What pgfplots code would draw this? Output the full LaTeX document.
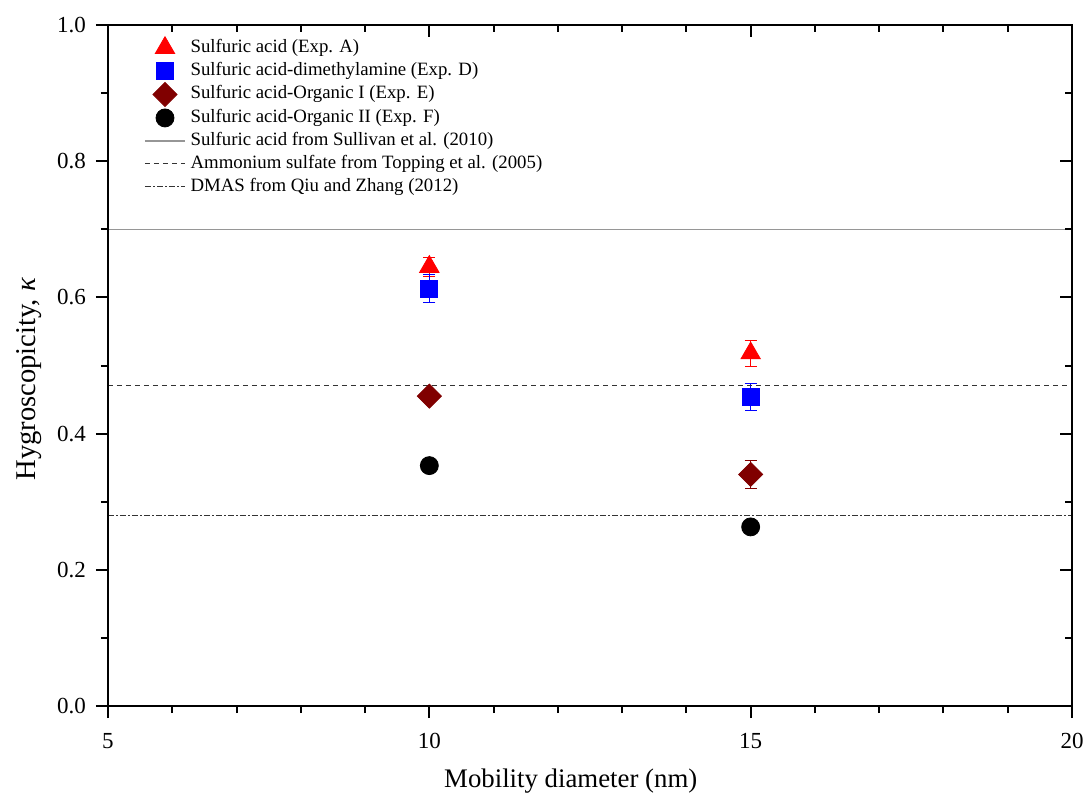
\documentclass[border=0pt]{standalone}
\usepackage{fontspec}
\setmainfont{Liberation Serif}
\usepackage{pgfplots}
\pgfplotsset{compat=1.18}

\begin{document}
\begin{tikzpicture}
\pgfplotsset{
    frame/.style={
        scale only axis,
        width=482pt, height=340.5pt,
        xmin=5, xmax=20, ymin=0, ymax=1,
        xtick={5,10,15,20}, ytick={0,0.2,0.4,0.6,0.8,1.0},
        minor x tick num=4, minor y tick num=1,
        axis line style={line width=1pt},
        major tick length=6pt, minor tick length=3.5pt,
        every tick/.style={line width=1pt, black},
        every minor tick/.style={line width=1pt, black},
    },
    errs/.style={
        error bars/.cd, y dir=both, y explicit,
        error bar style={line width=0.5pt},
        error mark options={rotate=90, mark size=3pt, line width=0.5pt},
    },
}
\begin{axis}[
    frame,
    xtick pos=bottom, ytick pos=left, tick align=outside,
    /pgf/number format/assume math mode=true,
    yticklabel style={/pgf/number format/fixed, /pgf/number format/fixed zerofill,
        /pgf/number format/precision=1, xshift=-1.5pt},
    tick label style={font=\fontsize{11.5}{13}\selectfont},
    xticklabel style={yshift=-4pt},
    xlabel={Mobility diameter (nm)},
    ylabel={Hygroscopicity, \textit{κ}},
    xlabel style={font=\fontsize{13.4}{16}\selectfont, at={(axis description cs:0.48,0)}, anchor=center, yshift=-37.5pt},
    ylabel style={font=\fontsize{14.3}{16}\selectfont, at={(axis description cs:-0.082,0.48)}, anchor=center},
    legend cell align=left,
    legend image code/.code={\draw[mark repeat=2,mark phase=2,#1] plot coordinates {(0pt,0pt)(10pt,0pt)(20pt,0pt)};},
    legend style={draw=none, fill=none, at={(0,1)}, anchor=north west,
        xshift=18pt, yshift=-5.5pt, inner sep=0pt, row sep=0pt,
        font=\fontsize{9.4}{11}\selectfont,
        nodes={inner ysep=1pt, inner xsep=2.5pt, text height=7pt, text depth=2.5pt}},
]
\addplot[only marks, color=red, mark=triangle*, mark size=5.6pt, errs]
    coordinates {(10,0.645) +- (0,0.014) (15,0.518) +- (0,0.019)};
\addlegendentry{Sulfuric acid (Exp. A)}
\addplot[only marks, color=blue, mark=square*, mark size=4.25pt, errs]
    coordinates {(10,0.613) +- (0,0.020) (15,0.454) +- (0,0.020)};
\addlegendentry{Sulfuric acid-dimethylamine (Exp. D)}
\addplot[only marks, color={rgb,255:red,128;green,0;blue,0}, mark=square*, mark size=4.25pt, mark options={rotate=45}, errs]
    coordinates {(10,0.455) +- (0,0.005) (15,0.340) +- (0,0.020)};
\addlegendentry{Sulfuric acid-Organic I (Exp. E)}
\addplot[only marks, color=black, mark=*, mark size=4.5pt, errs]
    coordinates {(10,0.353) +- (0,0.005) (15,0.263) +- (0,0.005)};
\addlegendentry{Sulfuric acid-Organic II (Exp. F)}
\addplot[no marks, line width=0.6pt, color={rgb,255:red,150;green,150;blue,150}]
    coordinates {(5,0.70) (20,0.70)};
\addlegendentry{Sulfuric acid from Sullivan et al. (2010)}
\addplot[no marks, line width=0.5pt, color=black!80, dash pattern=on 2.5pt off 2pt]
    coordinates {(5,0.47) (20,0.47)};
\addlegendentry{Ammonium sulfate from Topping et al. (2005)}
\addplot[no marks, line width=0.5pt, color=black!80, dash pattern=on 3pt off 1.2pt on 0.6pt off 1.2pt]
    coordinates {(5,0.28) (20,0.28)};
\addlegendentry{DMAS from Qiu and Zhang (2012)}
\end{axis}
\begin{axis}[
    frame,
    xtick pos=top, ytick pos=right, tick align=inside,
    xticklabels={}, yticklabels={},
]
\end{axis}
\pgfresetboundingbox
\useasboundingbox ([xshift=-54pt,yshift=-47pt]current axis.south west) rectangle ([xshift=8pt,yshift=12.5pt]current axis.north east);
\end{tikzpicture}
\end{document}
